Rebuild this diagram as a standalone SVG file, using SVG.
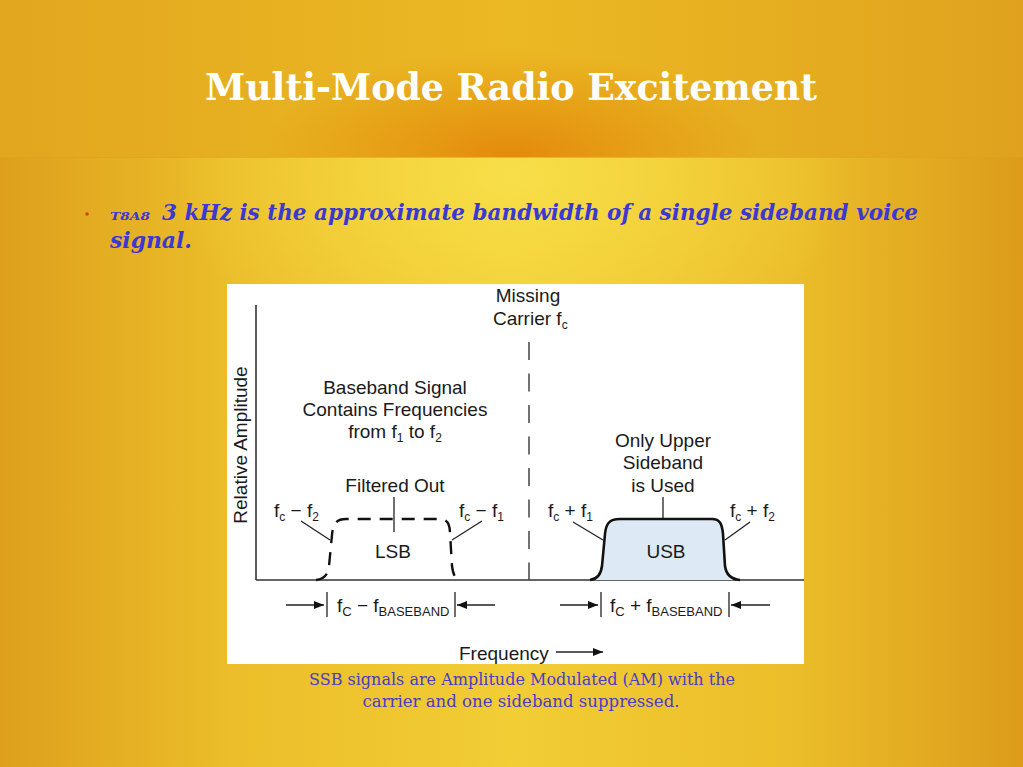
<svg xmlns="http://www.w3.org/2000/svg" width="1023" height="767" viewBox="0 0 1023 767">
  <defs>
    <linearGradient id="bgH" x1="0" y1="0" x2="1" y2="0">
      <stop offset="0" stop-color="#dea01c"/>
      <stop offset="0.22" stop-color="#ebbd2a"/>
      <stop offset="0.5" stop-color="#f2cd34"/>
      <stop offset="0.78" stop-color="#ebbd2a"/>
      <stop offset="1" stop-color="#dc9c1a"/>
    </linearGradient>
    <linearGradient id="topH" x1="0" y1="0" x2="1" y2="0">
      <stop offset="0" stop-color="#e2a61f"/>
      <stop offset="0.5" stop-color="#ebb923"/>
      <stop offset="1" stop-color="#e0a21e"/>
    </linearGradient>
    <radialGradient id="glow" cx="512" cy="155" r="250" gradientUnits="userSpaceOnUse" gradientTransform="translate(512 155) scale(1 0.42) translate(-512 -155)">
      <stop offset="0" stop-color="#e3880a" stop-opacity="0.95"/>
      <stop offset="1" stop-color="#e3880a" stop-opacity="0"/>
    </radialGradient>
    <radialGradient id="hilite" cx="512" cy="175" r="340" gradientUnits="userSpaceOnUse" gradientTransform="translate(512 175) scale(1 0.6) translate(-512 -175)">
      <stop offset="0" stop-color="#f8e04a" stop-opacity="0.9"/>
      <stop offset="1" stop-color="#f8e04a" stop-opacity="0"/>
    </radialGradient>
    <marker id="ah" viewBox="0 0 10 10" refX="10" refY="5" markerWidth="10" markerHeight="10" markerUnits="userSpaceOnUse" orient="auto">
      <path d="M0,1 L10,5 L0,9 Z" fill="#111"/>
    </marker>
    <style>
      .dt { font-family: "Liberation Sans", Arial, sans-serif; font-size: 19px; fill: #1a1a1a; }
      .sub { font-size: 12px; }
      .subB { font-size: 13px; }
      .ln { stroke: #222; stroke-width: 1.3; fill: none; }
      .ax { stroke: #333; stroke-width: 1.6; fill: none; }
      .blue { font-family: "DejaVu Serif", "Liberation Serif", serif; fill: #3b38d4; font-weight: bold; font-style: italic; }
      .cap { font-family: "DejaVu Serif", "Liberation Serif", serif; fill: #4a3cc4; font-size: 16.5px; }
    </style>
  </defs>

  <!-- background -->
  <rect x="0" y="0" width="1023" height="767" fill="url(#bgH)"/>
  <rect x="0" y="157" width="1023" height="610" fill="url(#hilite)"/>
  <rect x="0" y="0" width="1023" height="157" fill="url(#topH)"/>
  <rect x="0" y="0" width="1023" height="157" fill="url(#glow)"/>
  <line x1="0" y1="157.5" x2="1023" y2="157.5" stroke="#dfa21a" stroke-width="1" opacity="0.6"/>

  <!-- title -->
  <text id="title" x="511" y="100" text-anchor="middle" font-family="DejaVu Serif, Liberation Serif, serif" font-weight="bold" font-size="38" fill="#ffffff" textLength="612" lengthAdjust="spacingAndGlyphs">Multi-Mode Radio Excitement</text>

  <!-- bullet -->
  <g id="bullet">
    <circle cx="87" cy="214" r="1.8" fill="#d2401a"/>
    <text class="blue" x="110" y="220" font-size="11" textLength="40" lengthAdjust="spacingAndGlyphs">T8A8</text>
    <text class="blue" x="162" y="220" font-size="22" textLength="756" lengthAdjust="spacingAndGlyphs">3 kHz is the approximate bandwidth of a single sideband voice</text>
    <text class="blue" x="110" y="248" font-size="22" textLength="82" lengthAdjust="spacingAndGlyphs">signal.</text>
  </g>

  <!-- diagram panel -->
  <g id="panel">
    <rect x="227" y="284" width="577" height="380" fill="#ffffff"/>
  </g>

  <!-- axes and connectors -->
  <g id="connectors">
    <line class="ax" x1="256" y1="305" x2="256" y2="580"/>
    <line class="ax" x1="256" y1="580" x2="804" y2="580"/>
    <line x1="529" y1="342" x2="529" y2="580" stroke="#444" stroke-width="1.5" stroke-dasharray="18 13.5"/>
    <!-- LSB leaders -->
    <line class="ln" x1="301" y1="521" x2="330" y2="540"/>
    <line class="ln" x1="482" y1="521" x2="452" y2="540"/>
    <line class="ln" x1="394" y1="497" x2="394" y2="532"/>
    <!-- USB leaders -->
    <line class="ln" x1="573" y1="522" x2="603" y2="540"/>
    <line class="ln" x1="750" y1="522" x2="725" y2="540"/>
    <line class="ln" x1="663" y1="497" x2="663" y2="532"/>
    <!-- bandwidth arrows -->
    <line class="ln" x1="286" y1="605" x2="324" y2="605" marker-end="url(#ah)"/>
    <line class="ln" x1="327" y1="592" x2="327" y2="617"/>
    <line class="ln" x1="455" y1="592" x2="455" y2="617"/>
    <line class="ln" x1="495" y1="605" x2="457" y2="605" marker-end="url(#ah)"/>
    <line class="ln" x1="560" y1="605" x2="598" y2="605" marker-end="url(#ah)"/>
    <line class="ln" x1="601" y1="592" x2="601" y2="617"/>
    <line class="ln" x1="729" y1="592" x2="729" y2="617"/>
    <line class="ln" x1="770" y1="605" x2="731" y2="605" marker-end="url(#ah)"/>
    <!-- frequency arrow -->
    <line class="ln" x1="556" y1="652" x2="603" y2="652" marker-end="url(#ah)"/>
  </g>

  <!-- LSB (filtered out) -->
  <g id="lsb">
    <path d="M 316 580 C 325 579, 328 574, 329 566 L 332 535 C 333 524, 336 519, 346 519 L 440 519 C 447 519, 450 524, 450 533 L 452 566 C 453 574, 455 579, 460 580" fill="none" stroke="#111" stroke-width="2.4" stroke-dasharray="13 9"/>
    <text class="dt" x="393" y="558" text-anchor="middle">LSB</text>
  </g>

  <!-- USB -->
  <g id="usb">
    <path d="M 590 580 C 598 579, 601 574, 602 566 L 605 534 C 606 524, 609 519, 620 519 L 712 519 C 720 519, 722 524, 723 534 L 725 566 C 726 574, 730 579, 740 580 Z" fill="#dde9f4" stroke="none"/>
    <path d="M 590 580 C 598 579, 601 574, 602 566 L 605 534 C 606 524, 609 519, 620 519 L 712 519 C 720 519, 722 524, 723 534 L 725 566 C 726 574, 730 579, 740 580" fill="none" stroke="#111" stroke-width="2.6"/>
    <text class="dt" x="666" y="558" text-anchor="middle">USB</text>
  </g>

  <!-- labels -->
  <g id="label-carrier">
    <text class="dt" x="528" y="302" text-anchor="middle">Missing</text>
    <text class="dt" x="493" y="325">Carrier f<tspan class="sub" dy="4">c</tspan></text>
  </g>
  <g id="label-baseband">
    <text class="dt" x="395" y="394" text-anchor="middle">Baseband Signal</text>
    <text class="dt" x="395" y="416" text-anchor="middle">Contains Frequencies</text>
    <text class="dt" x="395" y="438" text-anchor="middle">from f<tspan class="sub" dy="4">1</tspan><tspan dy="-4"> to f</tspan><tspan class="sub" dy="4">2</tspan></text>
  </g>
  <g id="label-filtered">
    <text class="dt" x="395" y="492" text-anchor="middle">Filtered Out</text>
  </g>
  <g id="label-upper">
    <text class="dt" x="663" y="447" text-anchor="middle">Only Upper</text>
    <text class="dt" x="663" y="469" text-anchor="middle">Sideband</text>
    <text class="dt" x="663" y="492" text-anchor="middle">is Used</text>
  </g>
  <g id="label-fc-f2">
    <text class="dt" x="274" y="517">f<tspan class="sub" dy="4">c</tspan><tspan dy="-4"> − f</tspan><tspan class="sub" dy="4">2</tspan></text>
  </g>
  <g id="label-fc-f1">
    <text class="dt" x="459" y="517">f<tspan class="sub" dy="4">c</tspan><tspan dy="-4"> − f</tspan><tspan class="sub" dy="4">1</tspan></text>
  </g>
  <g id="label-fc+f1">
    <text class="dt" x="548" y="517">f<tspan class="sub" dy="4">c</tspan><tspan dy="-4"> + f</tspan><tspan class="sub" dy="4">1</tspan></text>
  </g>
  <g id="label-fc+f2">
    <text class="dt" x="730" y="517">f<tspan class="sub" dy="4">c</tspan><tspan dy="-4"> + f</tspan><tspan class="sub" dy="4">2</tspan></text>
  </g>
  <g id="label-lsb-bw">
    <text class="dt" x="337" y="612">f<tspan class="subB" dy="4">C</tspan><tspan dy="-4"> − f</tspan><tspan class="subB" dy="4">BASEBAND</tspan></text>
  </g>
  <g id="label-usb-bw">
    <text class="dt" x="610" y="612">f<tspan class="subB" dy="4">C</tspan><tspan dy="-4"> + f</tspan><tspan class="subB" dy="4">BASEBAND</tspan></text>
  </g>
  <g id="label-axes">
    <text class="dt" x="459" y="660">Frequency</text>
    <text class="dt" transform="translate(247 445) rotate(-90)" text-anchor="middle">Relative Amplitude</text>
  </g>

  <!-- caption -->
  <g id="caption">
    <text class="cap" x="522" y="685" text-anchor="middle" textLength="426" lengthAdjust="spacingAndGlyphs">SSB signals are Amplitude Modulated (AM) with the</text>
    <text class="cap" x="521" y="707" text-anchor="middle" textLength="317" lengthAdjust="spacingAndGlyphs">carrier and one sideband suppressed.</text>
  </g>
</svg>
